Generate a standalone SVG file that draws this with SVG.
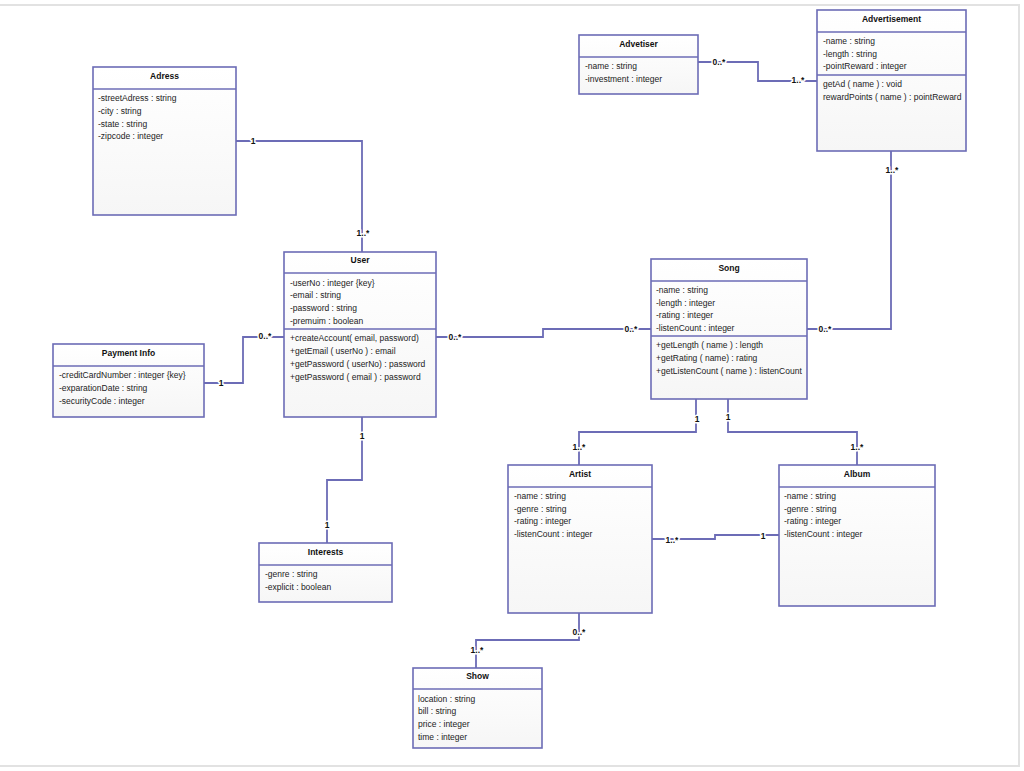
<svg xmlns="http://www.w3.org/2000/svg" width="1024" height="771" viewBox="0 0 1024 771">
<defs>
<linearGradient id="bg" x1="0" y1="0" x2="0" y2="1">
<stop offset="0" stop-color="#ffffff"/>
<stop offset="1" stop-color="#f6f6f6"/>
</linearGradient>
<style>
.box{fill:url(#bg);stroke:#6c6cb6;stroke-width:1.6}
.sep{stroke:#6c6cb6;stroke-width:1.6;fill:none}
.t{font-family:"Liberation Sans",Arial,sans-serif;font-size:8.5px;font-weight:bold;fill:#111;text-anchor:middle}
.a{font-family:"Liberation Sans",Arial,sans-serif;font-size:8.5px;fill:#222}
.c{stroke:#6c6cb6;stroke-width:1.8;fill:none}
.l{font-family:"Liberation Sans",Arial,sans-serif;font-size:8.5px;font-weight:bold;fill:#111;text-anchor:middle;stroke:#fff;stroke-width:3;paint-order:stroke;stroke-linejoin:round}
.frame{stroke:#e2e2e2;stroke-width:2;fill:none}
</style>
</defs>
<rect width="1024" height="771" fill="#fff"/>
<path class="frame" d="M0,5 H1019 V766 H0"/>

<g id="connectors">
<path class="c" d="M698,62 H758 V81 H817"/>
<path class="c" d="M891,151 V329 H807"/>
<path class="c" d="M436,337 H543 V329 H651"/>
<path class="c" d="M236,141 H362 V252"/>
<path class="c" d="M204,383 H243 V337 H284"/>
<path class="c" d="M362,417 V480 H327 V543"/>
<path class="c" d="M696,399 V432 H579 V465"/>
<path class="c" d="M728,399 V432 H857 V465"/>
<path class="c" d="M652,539 H715 V535 H779"/>
<path class="c" d="M579,613 V640 H476 V668"/>
<text class="l" x="719" y="65">0..*</text>
<text class="l" x="798" y="83">1..*</text>
<text class="l" x="892" y="173">1..*</text>
<text class="l" x="825" y="332">0..*</text>
<text class="l" x="455" y="340">0..*</text>
<text class="l" x="631" y="332">0..*</text>
<text class="l" x="253" y="144">1</text>
<text class="l" x="363" y="236">1..*</text>
<text class="l" x="221" y="386">1</text>
<text class="l" x="265" y="339">0..*</text>
<text class="l" x="362" y="439">1</text>
<text class="l" x="327" y="528">1</text>
<text class="l" x="697" y="422">1</text>
<text class="l" x="728" y="420">1</text>
<text class="l" x="579" y="450">1..*</text>
<text class="l" x="857" y="450">1..*</text>
<text class="l" x="672" y="543">1..*</text>
<text class="l" x="763" y="539">1</text>
<text class="l" x="579" y="635">0..*</text>
<text class="l" x="477" y="653">1..*</text>
</g>

<g id="advertisement">
<rect class="box" x="817" y="10" width="149" height="141"/>
<path class="sep" d="M817,32 H966 M817,75 H966"/>
<text class="t" x="891.5" y="22">Advertisement</text>
<text class="a" x="823" y="44">-name : string</text>
<text class="a" x="823" y="56.5">-length : string</text>
<text class="a" x="823" y="69">-pointReward : integer</text>
<text class="a" x="823" y="86.5">getAd ( name ) : void</text>
<text class="a" x="823" y="99.5">rewardPoints ( name ) : pointReward</text>
</g>

<g id="advetiser">
<rect class="box" x="579" y="35" width="119" height="59"/>
<path class="sep" d="M579,57 H698"/>
<text class="t" x="638.5" y="46.5">Advetiser</text>
<text class="a" x="585" y="69">-name : string</text>
<text class="a" x="585" y="82">-investment : integer</text>
</g>

<g id="adress">
<rect class="box" x="93" y="67" width="143" height="148"/>
<path class="sep" d="M93,89 H236"/>
<text class="t" x="164.5" y="79">Adress</text>
<text class="a" x="98" y="101">-streetAdress : string</text>
<text class="a" x="98" y="114">-city : string</text>
<text class="a" x="98" y="126.5">-state : string</text>
<text class="a" x="98" y="139">-zipcode : integer</text>
</g>

<g id="user">
<rect class="box" x="284" y="252" width="152" height="165"/>
<path class="sep" d="M284,273 H436 M284,329 H436"/>
<text class="t" x="360" y="263">User</text>
<text class="a" x="290" y="285.5">-userNo : integer {key}</text>
<text class="a" x="290" y="298">-email : string</text>
<text class="a" x="290" y="311">-password : string</text>
<text class="a" x="290" y="323.5">-premuim : boolean</text>
<text class="a" x="290" y="341">+createAccount( email, password)</text>
<text class="a" x="290" y="354">+getEmail ( userNo )  : email</text>
<text class="a" x="290" y="367">+getPassword ( userNo) : password</text>
<text class="a" x="290" y="379.5">+getPassword ( email ) : password</text>
</g>

<g id="payment-info">
<rect class="box" x="53" y="344" width="151" height="73"/>
<path class="sep" d="M53,366 H204"/>
<text class="t" x="128.5" y="356">Payment Info</text>
<text class="a" x="59" y="378">-creditCardNumber : integer {key}</text>
<text class="a" x="59" y="391">-exparationDate : string</text>
<text class="a" x="59" y="403.5">-securityCode : integer</text>
</g>

<g id="song">
<rect class="box" x="651" y="259" width="156" height="140"/>
<path class="sep" d="M651,281 H807 M651,336 H807"/>
<text class="t" x="729" y="270.5">Song</text>
<text class="a" x="656" y="292.5">-name : string</text>
<text class="a" x="656" y="305.5">-length : integer</text>
<text class="a" x="656" y="318">-rating : integer</text>
<text class="a" x="656" y="331">-listenCount : integer</text>
<text class="a" x="656" y="348">+getLength ( name )  : length</text>
<text class="a" x="656" y="361">+getRating ( name) : rating</text>
<text class="a" x="656" y="373.5">+getListenCount ( name ) : listenCount</text>
</g>

<g id="artist">
<rect class="box" x="508" y="465" width="144" height="148"/>
<path class="sep" d="M508,487 H652"/>
<text class="t" x="580" y="476.5">Artist</text>
<text class="a" x="514" y="499">-name : string</text>
<text class="a" x="514" y="511.5">-genre : string</text>
<text class="a" x="514" y="524">-rating : integer</text>
<text class="a" x="514" y="537">-listenCount : integer</text>
</g>

<g id="album">
<rect class="box" x="779" y="465" width="156" height="141"/>
<path class="sep" d="M779,487 H935"/>
<text class="t" x="857" y="476.5">Album</text>
<text class="a" x="784" y="499">-name : string</text>
<text class="a" x="784" y="511.5">-genre : string</text>
<text class="a" x="784" y="524">-rating : integer</text>
<text class="a" x="784" y="537">-listenCount : integer</text>
</g>

<g id="interests">
<rect class="box" x="259" y="543" width="133" height="59"/>
<path class="sep" d="M259,565 H392"/>
<text class="t" x="325.5" y="555">Interests</text>
<text class="a" x="265" y="577">-genre : string</text>
<text class="a" x="265" y="589.5">-explicit : boolean</text>
</g>

<g id="show">
<rect class="box" x="413" y="668" width="129" height="80"/>
<path class="sep" d="M413,689 H542"/>
<text class="t" x="477.5" y="679">Show</text>
<text class="a" x="418" y="701.5">location : string</text>
<text class="a" x="418" y="714">bill : string</text>
<text class="a" x="418" y="727">price : integer</text>
<text class="a" x="418" y="739.5">time : integer</text>
</g>
</svg>
